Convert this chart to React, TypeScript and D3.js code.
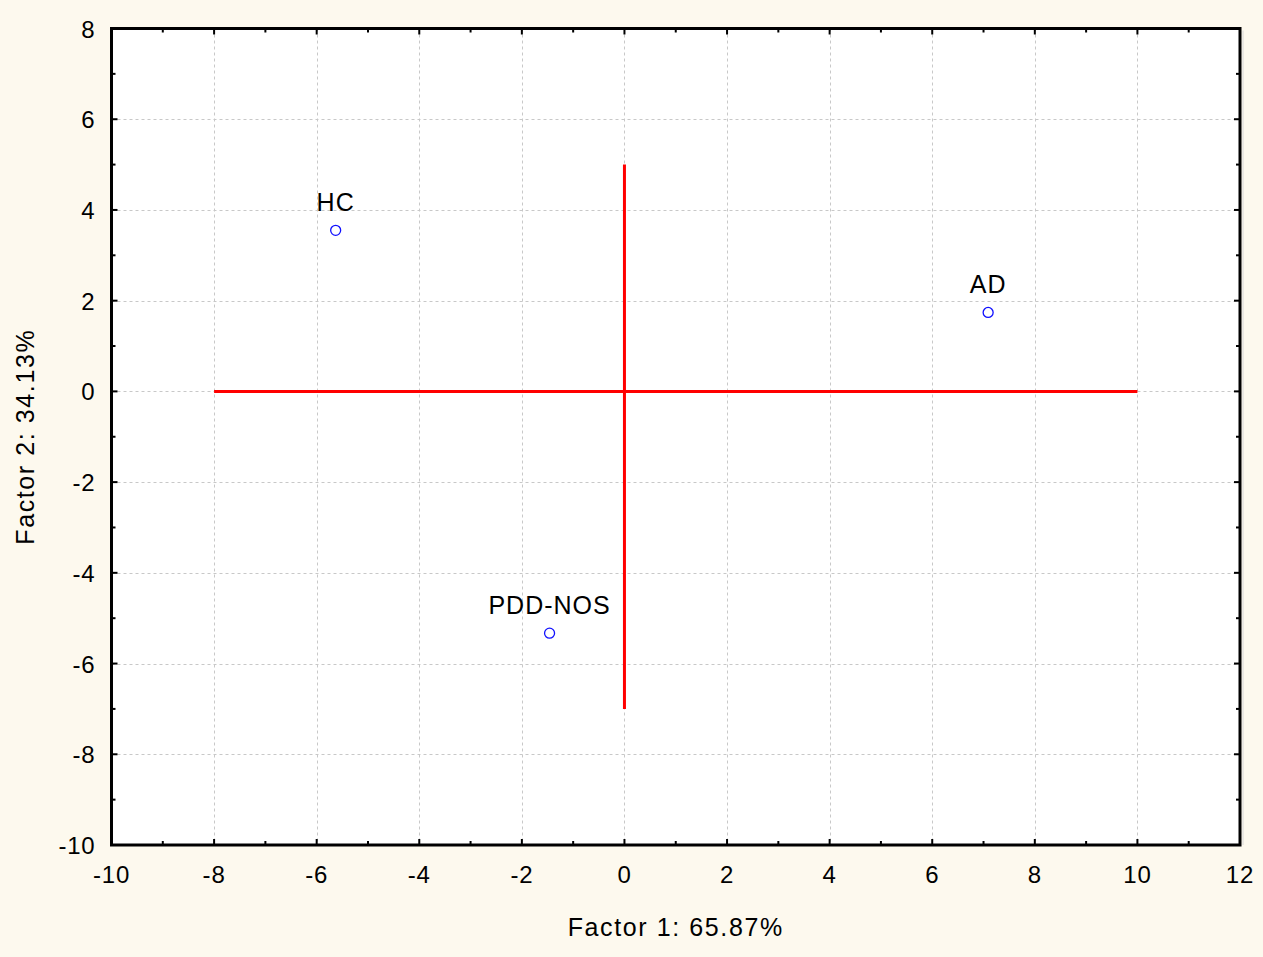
import * as d3 from "d3";
import { useEffect, useRef } from "react";

const groups = ["HC", "AD", "PDD-NOS"];
const factor1 = [-5.63, 7.09, -1.46];
const factor2 = [3.55, 1.74, -5.33];
const xTicks = [-10, -8, -6, -4, -2, 0, 2, 4, 6, 8, 10, 12];
const yTicks = [-10, -8, -6, -4, -2, 0, 2, 4, 6, 8];
// red cross lines: [x1, y1, x2, y2] in data units
const crossLines = [
    [-8, 0, 10, 0],
    [0, 5, 0, -7],
];

export default function App() {
    const ref = useRef<SVGSVGElement | null>(null);

    useEffect(() => {
        if (!ref.current) return;
        const width = 1263;
        const height = 957;
        const margin = { top: 28.5, right: 23, bottom: 112, left: 111.5 };
        const font = "'Liberation Sans', Arial, sans-serif";

        const svg = d3.select(ref.current);
        svg.selectAll("*").remove();

        svg.append("rect").attr("width", width).attr("height", height).attr("fill", "#fdf9ee");

        const x = d3.scaleLinear().domain([-10, 12]).range([margin.left, width - margin.right]);
        const y = d3.scaleLinear().domain([-10, 8]).range([height - margin.bottom, margin.top]);

        // plot area
        svg.append("rect")
            .attr("x", x(-10)).attr("y", y(8))
            .attr("width", x(12) - x(-10)).attr("height", y(-10) - y(8))
            .attr("fill", "white");

        // subtle shadow on right edge
        svg.append("line")
            .attr("x1", x(12) + 3).attr("x2", x(12) + 3)
            .attr("y1", y(8) + 2).attr("y2", y(-10))
            .attr("stroke", "#d8d8d8").attr("stroke-width", 1);

        // grid
        const grid = svg.append("g").attr("stroke", "#c8c8c8").attr("stroke-width", 1).attr("stroke-dasharray", "3,3");
        grid.selectAll("line.gx")
            .data(xTicks.slice(1, -1))
            .join("line")
            .attr("x1", (d) => Math.round(x(d)) + 0.5).attr("x2", (d) => Math.round(x(d)) + 0.5)
            .attr("y1", y(8)).attr("y2", y(-10));
        grid.selectAll("line.gy")
            .data(yTicks.slice(1, -1))
            .join("line")
            .attr("y1", (d) => Math.round(y(d)) + 0.5).attr("y2", (d) => Math.round(y(d)) + 0.5)
            .attr("x1", x(-10)).attr("x2", x(12));

        // ticks inside the frame
        const ticks = svg.append("g").attr("stroke", "black").attr("stroke-width", 2);
        const xAll = d3.range(-10, 12.01, 1);
        const yAll = d3.range(-10, 8.01, 1);
        xAll.forEach((v) => {
            const len = v % 2 === 0 ? 6 : 4;
            ticks.append("line").attr("x1", x(v)).attr("x2", x(v)).attr("y1", y(-10)).attr("y2", y(-10) - len);
            ticks.append("line").attr("x1", x(v)).attr("x2", x(v)).attr("y1", y(8)).attr("y2", y(8) + len);
        });
        yAll.forEach((v) => {
            const len = v % 2 === 0 ? 6 : 4;
            ticks.append("line").attr("y1", y(v)).attr("y2", y(v)).attr("x1", x(-10)).attr("x2", x(-10) + len);
            ticks.append("line").attr("y1", y(v)).attr("y2", y(v)).attr("x1", x(12)).attr("x2", x(12) - len);
        });

        // frame
        svg.append("rect")
            .attr("x", x(-10)).attr("y", y(8))
            .attr("width", x(12) - x(-10)).attr("height", y(-10) - y(8))
            .attr("fill", "none").attr("stroke", "black").attr("stroke-width", 3);

        // tick labels
        svg.append("g")
            .selectAll("text")
            .data(xTicks)
            .join("text")
            .attr("x", (d) => x(d))
            .attr("y", y(-10) + 38)
            .attr("text-anchor", "middle")
            .attr("font-family", font).attr("font-size", 24).attr("letter-spacing", 0.8)
            .text((d) => d);
        svg.append("g")
            .selectAll("text")
            .data(yTicks)
            .join("text")
            .attr("x", x(-10) - 16)
            .attr("y", (d) => y(d) + 9)
            .attr("text-anchor", "end")
            .attr("font-family", font).attr("font-size", 24).attr("letter-spacing", 0.8)
            .text((d) => d);

        // axis titles
        svg.append("text")
            .attr("x", (x(-10) + x(12)) / 2)
            .attr("y", 936)
            .attr("text-anchor", "middle")
            .attr("font-family", font).attr("font-size", 25).attr("letter-spacing", 1.6)
            .text("Factor 1: 65.87%");
        svg.append("text")
            .attr("transform", `translate(34,${(y(8) + y(-10)) / 2}) rotate(-90)`)
            .attr("text-anchor", "middle")
            .attr("font-family", font).attr("font-size", 25).attr("letter-spacing", 1.6)
            .text("Factor 2: 34.13%");

        // red cross
        svg.append("g")
            .selectAll("line")
            .data(crossLines)
            .join("line")
            .attr("x1", (d) => x(d[0])).attr("y1", (d) => y(d[1]))
            .attr("x2", (d) => x(d[2])).attr("y2", (d) => y(d[3]))
            .attr("stroke", "#ff0000").attr("stroke-width", 3);

        // points + labels
        const pts = groups.map((g, i) => ({ g, fx: factor1[i], fy: factor2[i] }));
        svg.append("g")
            .selectAll("circle")
            .data(pts)
            .join("circle")
            .attr("cx", (d) => x(d.fx)).attr("cy", (d) => y(d.fy))
            .attr("r", 5)
            .attr("fill", "none").attr("stroke", "#1010ff").attr("stroke-width", 1.3);
        svg.append("g")
            .selectAll("text")
            .data(pts)
            .join("text")
            .attr("x", (d) => x(d.fx)).attr("y", (d) => y(d.fy) - 19)
            .attr("text-anchor", "middle")
            .attr("font-family", font).attr("font-size", 25).attr("letter-spacing", 1)
            .text((d) => d.g);
    }, []);

    return (
        <svg
            ref={ref}
            width={1263}
            height={957}
            style={{ position: "absolute", left: 0, top: 0, display: "block" }}
        ></svg>
    );
}
